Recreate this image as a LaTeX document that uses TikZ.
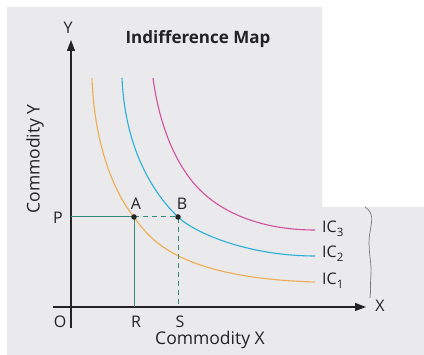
\documentclass[tikz,border=0pt]{standalone}
\usepackage{fontspec}
\setmainfont{Open Sans}
\usetikzlibrary{arrows.meta}
\definecolor{bggray}{RGB}{234,234,237}
\definecolor{icone}{RGB}{240,172,80}
\definecolor{ictwo}{RGB}{40,175,215}
\definecolor{icthree}{RGB}{210,80,155}
\definecolor{guide}{RGB}{50,140,120}
\definecolor{axiscol}{RGB}{35,35,35}
\definecolor{edgecol}{RGB}{120,120,125}
\begin{document}
\begin{tikzpicture}[x=1pt,y=-1pt,
  lbl/.style={font=\fontsize{16}{18}\selectfont, text=axiscol, inner sep=0pt},
  iclbl/.style={font=\fontsize{16}{18}\selectfont, text=axiscol, inner sep=0pt, anchor=west},
  axtitle/.style={font=\fontsize{17.5}{19}\selectfont, text=axiscol, inner sep=0pt},
  curve/.style={line width=1.1pt},
  axisline/.style={line width=1.2pt, draw=axiscol},
  guideline/.style={line width=1pt, draw=guide},
  dot/.style={circle, fill=axiscol, inner sep=0pt, minimum size=5.5pt}]
\useasboundingbox (0,0) rectangle (424,355);
\fill[white] (0,0) rectangle (424,355);
\fill[bggray] (7,7) -- (322,7) -- (322,207) -- (424,207) -- (424,355) -- (7,355) -- cycle;
% page edge
\draw[edgecol, line width=0.7pt] (365,207) .. controls (374,213) and (372,220) .. (370,232)
  .. controls (367,248) and (372,262) .. (371,275) .. controls (370,285) and (371,292) .. (370,298);
% points
\coordinate (Apt) at (134,217);
\coordinate (Bpt) at (178,217);
% indifference curves
\draw[icone, curve] (92,78) .. controls (94,140) and (112,190) .. (Apt)
  .. controls (150,240) and (180,278) .. (315,282);
\draw[ictwo, curve] (122,78) .. controls (125,145) and (150,190) .. (Bpt)
  .. controls (196,234) and (250,256) .. (315,256);
\draw[icthree, curve] (153,78) .. controls (160,130) and (178,168) .. (200,190)
  .. controls (222,212) and (260,230) .. (315,230);
% axes
\coordinate (ybot) at (71,328);
\coordinate (ytop) at (71,40);
\coordinate (xleft) at (53,307);
\coordinate (xright) at (366,307);
\draw[axisline, -{Triangle[length=11pt,width=8pt]}] (ybot) -- (ytop);
\draw[axisline, -{Triangle[length=11pt,width=8pt]}] (xleft) -- (xright);
% guides
\coordinate (pY) at (71,217);
\coordinate (rX) at (134,307);
\coordinate (sX) at (178,307);
\draw[guideline] (pY) -- (Apt) -- (rX);
\draw[guideline, dash pattern=on 5pt off 4pt] (Apt) -- (Bpt) -- (sX);
\node[dot] (A) at (Apt) {};
\node[dot] (B) at (Bpt) {};
% labels
\node[font=\bfseries\fontsize{17}{20}\selectfont, text=axiscol] (title) at (198,39) {Indifference Map};
\node[lbl] (ylab) at (68,28) {Y};
\node[lbl] (xlab) at (380,306) {X};
\node[lbl] (olab) at (60,322) {O};
\node[lbl] (rlab) at (136,322) {R};
\node[lbl] (slab) at (180,322) {S};
\node[lbl] (plab) at (58,218) {P};
\node[lbl] (alab) at (136,204) {A};
\node[lbl] (blab) at (182,204) {B};
\node[iclbl] (ic3) at (322,229) {IC\raisebox{-0.45ex}{\fontsize{11.5}{12}\selectfont 3}};
\node[iclbl] (ic2) at (322,254) {IC\raisebox{-0.45ex}{\fontsize{11.5}{12}\selectfont 2}};
\node[iclbl] (ic1) at (322,281) {IC\raisebox{-0.45ex}{\fontsize{11.5}{12}\selectfont 1}};
\node[axtitle] (cx) at (210,340) {Commodity X};
\node[axtitle, rotate=90] (cy) at (35,159) {Commodity Y};
\end{tikzpicture}
\end{document}
